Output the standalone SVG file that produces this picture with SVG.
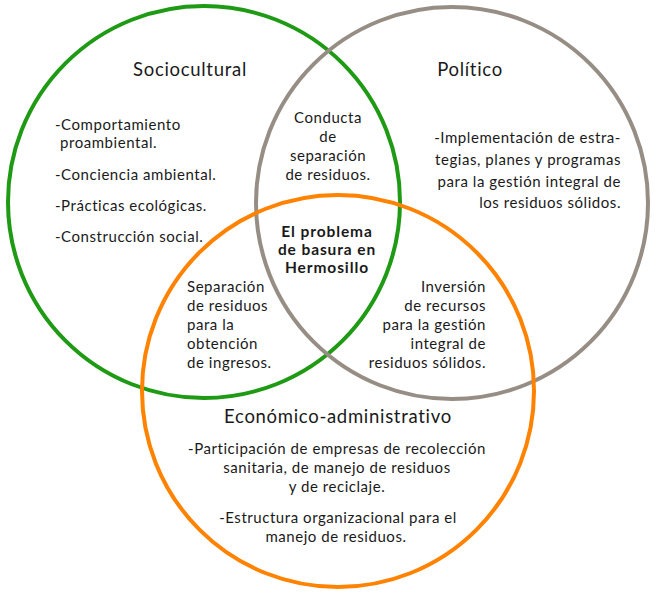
<svg xmlns="http://www.w3.org/2000/svg" width="657" height="595" viewBox="0 0 657 595">
<style>
.c{fill:none;stroke-width:4}
text{font-family:Lato,"Noto Sans","DejaVu Sans",sans-serif;fill:#1a1a1a}
.t{font-size:18.5px;letter-spacing:0.7px;text-anchor:middle}
.b{font-size:15px;letter-spacing:0.55px}
.m{text-anchor:middle}
.e{text-anchor:end}
.bold{font-weight:bold;font-size:15.5px;letter-spacing:0.9px}
</style>
<rect width="657" height="595" fill="#fff"/>
<g id="circles">
<circle id="sociocultural-circle" class="c" cx="204" cy="202" r="196" stroke="#1f9a14"/>
<circle id="politico-circle" class="c" cx="452" cy="203" r="196" stroke="#968e84"/>
<circle id="economico-circle" class="c" cx="338" cy="391" r="196" stroke="#ff8200"/>
</g>
<g id="sociocultural">
<text class="t" x="190" y="76">Sociocultural</text>
<text class="b" x="55" y="130">-Comportamiento</text>
<text class="b" x="60" y="148">proambiental.</text>
<text class="b" x="55" y="180">-Conciencia ambiental.</text>
<text class="b" x="55" y="211">-Prácticas ecológicas.</text>
<text class="b" x="55" y="242">-Construcción social.</text>
</g>
<g id="politico">
<text class="t" x="470" y="76">Político</text>
<text class="b e" x="621" y="143">-Implementación de estra-</text>
<text class="b e" x="621" y="165">tegias, planes y programas</text>
<text class="b e" x="621" y="187">para la gestión integral de</text>
<text class="b e" x="621" y="208">los residuos sólidos.</text>
</g>
<g id="economico">
<text class="t" x="338" y="423">Económico-administrativo</text>
<text class="b m" x="337" y="454">-Participación de empresas de recolección</text>
<text class="b m" x="337" y="473">sanitaria, de manejo de residuos</text>
<text class="b m" x="337" y="492">y de reciclaje.</text>
<text class="b m" x="338" y="523">-Estructura organizacional para el</text>
<text class="b m" x="336" y="542">manejo de residuos.</text>
</g>
<g id="conducta">
<text class="b m" x="328" y="123">Conducta</text>
<text class="b m" x="328" y="142">de</text>
<text class="b m" x="328" y="161">separación</text>
<text class="b m" x="328" y="180">de residuos.</text>
</g>
<g id="centro">
<text class="b m bold" x="327" y="237">El problema</text>
<text class="b m bold" x="327" y="255">de basura en</text>
<text class="b m bold" x="327" y="273">Hermosillo</text>
</g>
<g id="separacion">
<text class="b" x="187" y="292">Separación</text>
<text class="b" x="187" y="311">de residuos</text>
<text class="b" x="187" y="330">para la</text>
<text class="b" x="187" y="349">obtención</text>
<text class="b" x="187" y="368">de ingresos.</text>
</g>
<g id="inversion">
<text class="b e" x="486" y="292">Inversión</text>
<text class="b e" x="486" y="311">de recursos</text>
<text class="b e" x="486" y="330">para la gestión</text>
<text class="b e" x="486" y="349">integral de</text>
<text class="b e" x="486" y="368">residuos sólidos.</text>
</g>
</svg>
